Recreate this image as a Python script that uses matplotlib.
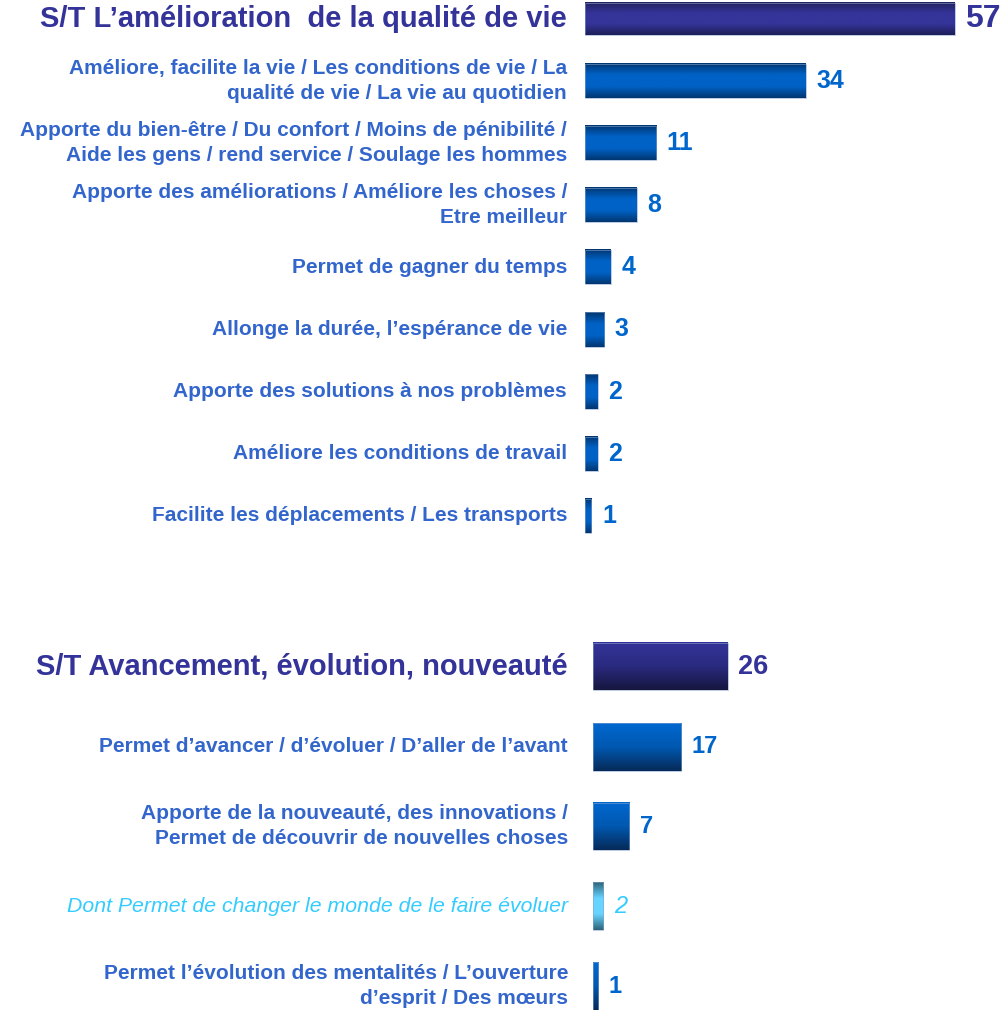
import matplotlib.pyplot as plt
import numpy as np
from matplotlib.colors import LinearSegmentedColormap

plt.rcParams['font.family'] = ['Liberation Sans', 'DejaVu Sans']

# data
top_labels = [
    "S/T L’amélioration  de la qualité de vie",
    "Améliore, facilite la vie / Les conditions de vie / La\nqualité de vie / La vie au quotidien",
    "Apporte du bien-être / Du confort / Moins de pénibilité /\nAide les gens / rend service / Soulage les hommes",
    "Apporte des améliorations / Améliore les choses /\nEtre meilleur",
    "Permet de gagner du temps",
    "Allonge la durée, l’espérance de vie",
    "Apporte des solutions à nos problèmes",
    "Améliore les conditions de travail",
    "Facilite les déplacements / Les transports",
]
top_values = [57, 34, 11, 8, 4, 3, 2, 2, 1]
top_kinds = ["header"] + ["sub"] * 8

bottom_labels = [
    "S/T Avancement, évolution, nouveauté",
    "Permet d’avancer / d’évoluer / D’aller de l’avant",
    "Apporte de la nouveauté, des innovations /\nPermet de découvrir de nouvelles choses",
    "Dont Permet de changer le monde de le faire évoluer",
    "Permet l’évolution des mentalités / L’ouverture\nd’esprit / Des mœurs",
]
bottom_values = [26, 17, 7, 2, 1]
bottom_kinds = ["header", "sub", "sub", "dont", "sub"]

W, H = 1001, 1010
fig = plt.figure(figsize=(W / 100, H / 100), dpi=100)


def make_styles(hval, sval):
    return {
        "header": dict(text="#333399", val="#333399", size=21, vsize=hval, style="normal", weight="bold"),
        "sub": dict(text="#3366cc", val="#0066cc", size=15, vsize=sval, style="normal", weight="bold"),
        "dont": dict(text="#33ccff", val="#33ccff", size=15.3, vsize=sval, style="italic", weight="normal"),
    }


def gradient_bar(ax, y, v, h, colors):
    cmap = LinearSegmentedColormap.from_list("g", colors)
    grad = np.linspace(0, 1, 200).reshape(-1, 1)
    ax.imshow(grad, cmap=cmap, aspect="auto", origin="upper",
              extent=(0, v, y + h / 2, y - h / 2), zorder=2, interpolation="bilinear")


def draw_group(ax, labels, values, kinds, grads, styles, h, hh, label_gap, xmax, ylim):
    ys = np.arange(len(values))
    heights = [hh if k == "header" else h for k in kinds]
    ax.barh(ys, values, height=heights, facecolor="none",
            edgecolor="#8aa4cc", linewidth=0.4, zorder=3)
    for y, v, k, lab, bh in zip(ys, values, kinds, labels, heights):
        st = styles[k]
        gradient_bar(ax, y, v, bh, grads[k])
        ax.annotate(lab, xy=(0, y), xytext=(-label_gap * 0.72, 0), textcoords="offset points",
                    ha="right", va="center", multialignment="right", color=st["text"],
                    fontsize=st["size"], fontweight=st["weight"], fontstyle=st["style"],
                    linespacing=1.4)
        ax.annotate(str(v), xy=(v, y), xytext=(7.5, 0), textcoords="offset points",
                    ha="left", va="center", color=st["val"], fontsize=st["vsize"],
                    fontweight=st["weight"], fontstyle=st["style"])
    ax.set_xlim(0, xmax)
    ax.set_ylim(*ylim)
    ax.axis("off")


# top group: bars start at x=585 px, 57 -> ~370 px
ax1 = fig.add_axes([585 / W, 1 - 553 / H, (W - 585) / W, 552.6 / H])
draw_group(ax1, top_labels, top_values, top_kinds,
           {"header": ["#22225e", "#343499", "#343499", "#1e1e58"],
            "sub": ["#003670", "#0062c6", "#0062c6", "#003670"]},
           make_styles(23, 18),
           h=0.55, hh=0.52, label_gap=18, xmax=(W - 585) / 6.49, ylim=(8.6, -0.3))

# bottom group: bars start at x=593 px, 26 -> ~135 px
ax2 = fig.add_axes([593 / W, 0, (W - 593) / W, (H - 635) / H])
draw_group(ax2, bottom_labels, bottom_values, bottom_kinds,
           {"header": ["#343499", "#2a2a80", "#16163e"],
            "sub": ["#0068d0", "#0058b0", "#062a58"],
            "dont": ["#2c6478", "#66d4ff", "#66d4ff", "#2c6478"]},
           make_styles(19.5, 17),
           h=0.6, hh=0.59, label_gap=25, xmax=(W - 593) / 5.19, ylim=(4.3, -0.4))

fig.savefig("out.png", dpi=100)
